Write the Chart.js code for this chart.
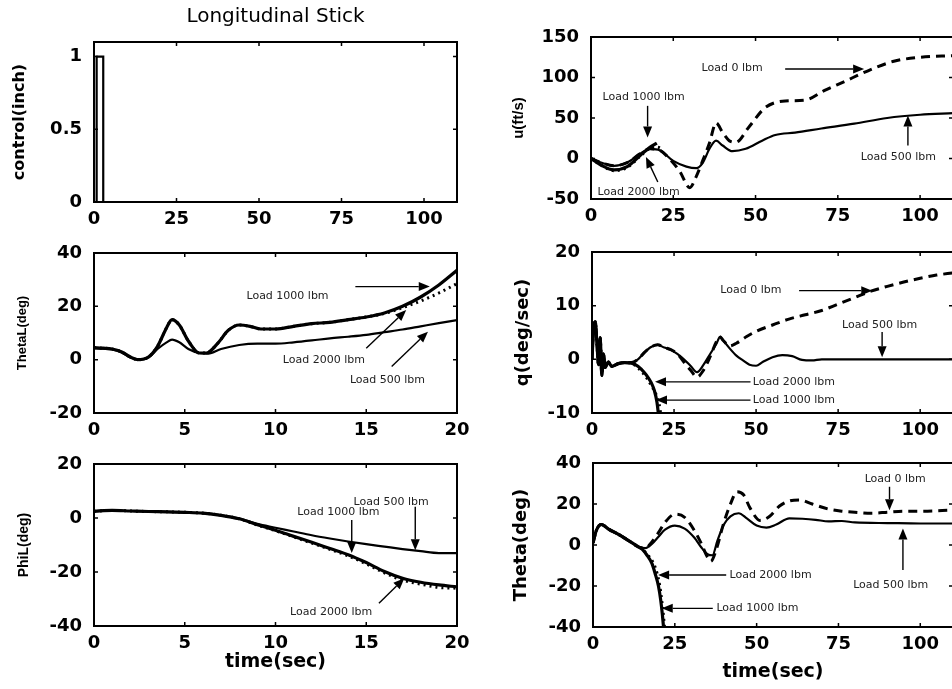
<!DOCTYPE html>
<html>
<head>
<meta charset="utf-8">
<script src="https://cdn.jsdelivr.net/npm/chart.js@4.4.0/dist/chart.umd.min.js"></script>
<style>
html, body { margin: 0; padding: 0; background: #fff; overflow: hidden; width: 952px; height: 689px; }
canvas { position: absolute; }
</style>
</head>
<body>
<canvas id="stick"></canvas>
<canvas id="thetaL"></canvas>
<canvas id="phiL"></canvas>
<canvas id="u"></canvas>
<canvas id="q"></canvas>
<canvas id="theta"></canvas>
<script>
// ---- tick labels ----
const xTicksLong = [0, 25, 50, 75, 100];
const xTicksShort = [0, 5, 10, 15, 20];
const yTicksStick = [0, 0.5, 1];
const yTicksU = [-50, 0, 50, 100, 150];
const yTicksThetaL = [-20, 0, 20, 40];
const yTicksQ = [-10, 0, 10, 20];
const yTicksPhiL = [-40, -20, 0, 20];
const yTicksTheta = [-40, -20, 0, 20, 40];

// ---- longitudinal stick ----
const stickT = [0, 0.8, 0.8, 2.8, 2.8, 110];
const stickIn = [0, 0, 1, 1, 0, 0];

// ---- u (ft/s) ----
const uT500 = [0, 3, 7, 11, 15, 18, 21, 25, 29, 32, 34, 36, 38, 40, 43, 47, 52, 56, 62, 70, 80, 90, 100, 110];
const uLoad500 = [0, -5, -9, -5, 6, 12, 10, -3, -10, -12, -5, 12, 22, 16, 9, 12, 22, 29, 32, 37, 43, 50, 54, 56];
const uT0 = [0, 3, 7, 11, 15, 18, 21, 24, 27, 30, 32, 34, 36, 38, 40, 42, 44, 48, 53, 59, 65, 71, 77, 84, 92, 100, 110];
const uLoad0 = [0, -5, -9, -5, 6, 12, 10, -1, -16, -36, -22, -2, 19, 44, 32, 22, 20, 39, 63, 71, 72, 84, 95, 108, 120, 125, 127];
const uT1000 = [0, 3, 7, 11, 15, 18, 20];
const uLoad1000 = [0, -8, -14, -10, 4, 14, 19];
const uT2000 = [0, 3, 7, 11, 15, 18, 20, 22];
const uLoad2000 = [0, -8, -15, -11, 3, 13, 14, 11];

// ---- ThetaL (deg) ----
const thLT = [0, 0.5, 1, 1.5, 2, 2.4, 3, 3.5, 4, 4.3, 4.7, 5.2, 5.8, 6.2, 6.8, 7.4, 8, 8.6, 9.2, 10, 11, 12, 13, 14, 15, 16, 17, 18, 19, 20];
const thL1000 = [4.5, 4.3, 4.0, 3, 1, 0, 1, 5, 12, 15, 13, 7, 2.5, 2.5, 6, 11, 13, 12.5, 11.5, 11.5, 12.5, 13.5, 14, 15, 16, 17.5, 20, 23.5, 28, 33.5];
const thL2000 = [4.5, 4.3, 4.0, 3, 1, 0, 1, 5, 12, 15, 13, 7, 2.5, 2.5, 6, 11, 13, 12.5, 11.5, 11.5, 12.5, 13.5, 14, 15, 16, 17.3, 19.5, 22, 25, 28.5];
const thLT500 = [0, 0.5, 1, 1.5, 2, 2.4, 3, 3.5, 4, 4.3, 4.7, 5.2, 5.8, 6.3, 7, 8, 9, 10, 11, 12, 13, 14, 15, 16, 17, 18, 19, 20];
const thL500 = [4.3, 4.1, 3.8, 2.8, 0.8, 0, 0.8, 4, 6.5, 7.5, 6.5, 4, 2.5, 2.3, 4, 5.5, 6, 6, 6.5, 7.2, 8, 8.6, 9.3, 10.3, 11.3, 12.5, 13.7, 14.8];

// ---- q (deg/sec) ----
const qT500 = [0, 0.5, 1, 1.5, 2, 2.5, 3, 3.5, 4, 5, 6, 8, 10, 12, 14, 16, 18, 20, 22, 24, 26, 28, 30, 32, 34, 36, 38, 39, 40, 42, 44, 46, 48, 50, 52, 55, 58, 61, 64, 67, 70, 80, 90, 100, 110];
const q500 = [0, 6, 7, 3, -1, 4, -3, 1, -1.5, -0.5, -1.3, -0.8, -0.6, -0.6, 0, 1.3, 2.3, 2.7, 2.2, 1.8, 1, 0, -1.2, -2.4, -1, 1, 3, 4.2, 3.5, 2, 0.7, -0.2, -1, -1.2, -0.5, 0.4, 0.8, 0.6, -0.1, -0.2, 0, 0, 0, 0, 0];
const qT0 = [0, 0.5, 1, 1.5, 2, 2.5, 3, 3.5, 4, 5, 6, 8, 10, 12, 14, 16, 18, 20, 22, 24, 26, 28, 30, 32, 34, 36, 38, 39, 40, 42, 44, 47, 50, 55, 60, 65, 70, 75, 80, 85, 90, 95, 100, 105, 110];
const q0 = [0, 6, 7, 3, -1, 4, -3, 1, -1.5, -0.5, -1.3, -0.8, -0.6, -0.6, 0, 1.3, 2.3, 2.7, 2.2, 1.8, 1, -0.5, -2, -3.3, -2, 0.5, 3.4, 4.2, 3.5, 2.5, 3, 4.2, 5.2, 6.4, 7.5, 8.3, 9.1, 10.3, 11.5, 12.7, 13.6, 14.4, 15.1, 15.7, 16.1];
const qT1000 = [0, 0.5, 1, 1.5, 2, 2.5, 3, 3.5, 4, 5, 6, 8, 10, 12, 14, 16, 17, 18, 19, 19.8, 20.3];
const q1000 = [0, 6, 7, 3, -1, 4, -3, 1, -1.5, -0.5, -1.3, -0.8, -0.6, -0.7, -1.3, -2.5, -3.3, -4.3, -5.8, -8, -10.5];
const qT2000 = [0, 0.5, 1, 1.5, 2, 2.5, 3, 3.5, 4, 5, 6, 8, 10, 12, 14, 16, 18, 19.5, 20.5, 21];
const q2000 = [0, 6, 7, 3, -1, 4, -3, 1, -1.5, -0.5, -1.3, -0.8, -0.6, -0.7, -1.6, -2.9, -4.8, -6.5, -8.5, -10.5];

// ---- PhiL (deg) ----
const phT = [0, 1, 2, 3, 4, 5, 6, 7, 8, 9, 10, 11, 12, 13, 14, 15, 16, 17, 18, 19, 20];
const phi500 = [2.5, 2.8, 2.6, 2.4, 2.3, 2.1, 1.8, 1, -0.2, -2.2, -3.6, -5, -6.4, -7.6, -8.7, -9.7, -10.6, -11.5, -12.3, -13, -13];
const phi1000 = [2.5, 2.8, 2.6, 2.4, 2.3, 2.1, 1.8, 1, -0.3, -2.5, -4.5, -6.8, -9, -11.3, -13.6, -16.5, -19.8, -22.3, -23.8, -24.8, -25.5];
const phi2000 = [2.5, 2.8, 2.6, 2.4, 2.3, 2.1, 1.8, 1, -0.3, -2.6, -4.7, -7, -9.3, -11.6, -14, -17, -20.3, -23, -24.5, -25.7, -26];

// ---- Theta (deg) ----
const thT500 = [0, 1, 2.5, 5, 8, 11, 14, 16, 18, 20, 22, 25, 28, 31, 33, 35, 36.5, 38, 40, 42, 44.5, 47, 50, 53, 56, 60, 64, 68, 72, 76, 80, 90, 100, 110];
const th500 = [1, 7, 10, 7.5, 5, 2, -1, -1.5, 0.5, 4, 7.5, 9.5, 8, 3.5, -1, -4.5, -5, 2, 10, 14, 15.5, 13, 9.5, 8.5, 10, 13, 12.8, 12.3, 11.5, 11.7, 11, 10.7, 10.5, 10.5];
const thT0 = [0, 1, 2.5, 5, 8, 11, 14, 16, 18, 20, 22, 25, 28, 31, 33, 35, 36, 37.5, 40, 42, 44, 46, 48, 51, 54, 57, 60, 63, 67, 72, 76, 80, 85, 90, 95, 100, 110];
const th0 = [1, 7, 10, 7.5, 5, 2, -1, -1.5, 1.5, 6, 11, 15, 13.5, 7, 1, -6, -8, -3, 11, 20, 26, 24.5, 18, 12, 14, 19, 21.5, 22, 20, 17.5, 16.5, 16, 15.5, 16, 16.5, 16.5, 17];
const thT1000 = [0, 1, 2.5, 5, 8, 11, 14, 15, 16.5, 18, 19, 20, 20.7, 21.2, 21.6];
const th1000 = [1, 7, 10, 7.5, 5, 2, -1, -2, -5, -9, -14, -20, -27, -34, -41];
const thT2000 = [0, 1, 2.5, 5, 8, 11, 14, 15, 16.8, 18.5, 19.6, 20.4, 21, 21.5, 21.9];
const th2000 = [1, 7, 10, 7.5, 5, 2, -1, -2, -5, -9, -14, -20, -27, -34, -41];

// ---- annotations: [t, value, text] and arrows [t0, v0, t1, v1] (head at t1,v1) ----
const NOTES = {
  u: {
    labels: [[33.6, 112, 'Load 0 lbm'], [3.5, 75.5, 'Load 1000 lbm'], [2, -41, 'Load 2000 lbm'], [82, 2, 'Load 500 lbm']],
    arrows: [[59, 110.5, 83, 110.5], [17.2, 65, 17.2, 26], [20.3, -29, 16.7, 2], [96.3, 16, 96.3, 53]]
  },
  thetaL: {
    labels: [[8.4, 24, 'Load 1000 lbm'], [10.4, -0.1, 'Load 2000 lbm'], [14.1, -7.6, 'Load 500 lbm']],
    arrows: [[14.4, 27.4, 18.5, 27.4], [15.0, 4.3, 17.2, 18.6], [16.4, -2.6, 18.4, 10.5]]
  },
  q: {
    labels: [[39.1, 12.8, 'Load 0 lbm'], [76.2, 6.4, 'Load 500 lbm'], [49, -4.2, 'Load 2000 lbm'], [49, -7.6, 'Load 1000 lbm']],
    arrows: [[63.1, 12.8, 85.4, 12.8], [88.4, 5.1, 88.4, 0.4], [48.3, -4.2, 19.2, -4.2], [48.3, -7.6, 19.5, -7.6]]
  },
  phiL: {
    labels: [[14.3, 6, 'Load 500 lbm'], [11.2, 2.3, 'Load 1000 lbm'], [10.8, -34.7, 'Load 2000 lbm']],
    arrows: [[17.7, 4.2, 17.7, -11.9], [14.2, -0.7, 14.2, -13], [15.7, -31.6, 17.1, -22.3]]
  },
  theta: {
    labels: [[83, 32, 'Load 0 lbm'], [79.5, -19.5, 'Load 500 lbm'], [41.7, -14.6, 'Load 2000 lbm'], [37.7, -30.9, 'Load 1000 lbm']],
    arrows: [[90.6, 28.4, 90.6, 17], [94.7, -12.2, 94.7, 8.1], [40.7, -14.6, 19.9, -14.6], [36.6, -30.9, 21.0, -30.9]]
  }
};

const pts = (ts, vs) => ts.map((t, i) => ({x: t, y: vs[i]}));

const thick = {borderWidth: 3.2};
const thin = {borderWidth: 2.2};
const dashed = {borderWidth: 3, borderDash: [9, 6]};
const dotted = {borderWidth: 3, borderDash: [2, 4]};

const framePlugin = {
  id: 'frame',
  afterDatasetsDraw(chart) {
    const {ctx, chartArea: a, scales: {x, y}} = chart;
    ctx.save();
    ctx.strokeStyle = '#000';
    ctx.lineWidth = 2;
    ctx.strokeRect(a.left, a.top, a.right - a.left, a.bottom - a.top);
    ctx.lineWidth = 1.5;
    ctx.beginPath();
    x.ticks.forEach(t => {
      const px = x.getPixelForValue(t.value);
      ctx.moveTo(px, a.bottom); ctx.lineTo(px, a.bottom - 4);
      ctx.moveTo(px, a.top); ctx.lineTo(px, a.top + 4);
    });
    y.ticks.forEach(t => {
      const py = y.getPixelForValue(t.value);
      ctx.moveTo(a.left, py); ctx.lineTo(a.left + 4, py);
      ctx.moveTo(a.right, py); ctx.lineTo(a.right - 4, py);
    });
    ctx.stroke();
    ctx.restore();
  }
};

const notePlugin = {
  id: 'notes',
  afterDraw(chart) {
    const n = NOTES[chart.canvas.id];
    if (!n) return;
    const {ctx, scales: {x, y}} = chart;
    ctx.save();
    ctx.font = '11px "DejaVu Sans"';
    ctx.fillStyle = '#222';
    ctx.textBaseline = 'middle';
    ctx.textAlign = 'left';
    n.labels.forEach(([t, v, s]) => ctx.fillText(s, x.getPixelForValue(t), y.getPixelForValue(v)));
    ctx.strokeStyle = '#000';
    ctx.fillStyle = '#000';
    ctx.lineWidth = 1.4;
    n.arrows.forEach(([t0, v0, t1, v1]) => {
      const x0 = x.getPixelForValue(t0), y0 = y.getPixelForValue(v0);
      const x1 = x.getPixelForValue(t1), y1 = y.getPixelForValue(v1);
      const ang = Math.atan2(y1 - y0, x1 - x0);
      const L = 11, W = 4.5;
      const bx = x1 - L * Math.cos(ang), by = y1 - L * Math.sin(ang);
      ctx.beginPath();
      ctx.moveTo(x0, y0); ctx.lineTo(bx, by);
      ctx.stroke();
      ctx.beginPath();
      ctx.moveTo(x1, y1);
      ctx.lineTo(bx - W * Math.sin(ang), by + W * Math.cos(ang));
      ctx.lineTo(bx + W * Math.sin(ang), by - W * Math.cos(ang));
      ctx.closePath();
      ctx.fill();
    });
    ctx.restore();
  }
};

Chart.defaults.color = '#000';
Chart.defaults.font.family = '"DejaVu Sans", sans-serif';

function panel(id, p) {
  const c = document.getElementById(id);
  const [cl, ct, cw, ch] = p.box;
  c.width = cw; c.height = ch;
  c.style.left = cl + 'px'; c.style.top = ct + 'px';
  const yW = p.plot[0] - cl;
  const xH = ct + ch - p.plot[3];
  return new Chart(c, {
    type: 'line',
    data: {
      datasets: p.series.map(s => Object.assign({
        data: s.data, borderColor: '#000', backgroundColor: '#000',
        pointRadius: 0, fill: false, cubicInterpolationMode: 'monotone'
      }, s.style))
    },
    options: {
      responsive: false,
      animation: false,
      devicePixelRatio: 1,
      layout: {padding: {left: 0, bottom: 0, top: p.padTop, right: cl + cw - p.plot[1]}},
      plugins: {
        legend: {display: false},
        tooltip: {enabled: false},
        title: p.title ? {
          display: true, text: p.title, fullSize: false,
          font: {family: '"DejaVu Sans"', size: 20, weight: 'normal'},
          padding: {top: 4.7, bottom: 13.3}
        } : {display: false}
      },
      scales: {
        x: {
          type: 'linear', min: 0, max: p.xMax,
          grid: {display: false, drawTicks: false},
          border: {display: false},
          ticks: {font: {size: 18, weight: 'bold'}, padding: 7, maxRotation: 0, callback: v => String(v)},
          afterBuildTicks: s => { s.ticks = p.xTicks.map(v => ({value: v})); },
          afterFit: s => { s.height = xH; },
          title: p.xTitle ? {
            display: true, text: p.xTitle,
            font: {size: 19, weight: 'bold'},
            padding: {top: 0, bottom: p.xTitlePad}
          } : {display: false}
        },
        y: {
          type: 'linear', min: p.yMin, max: p.yMax,
          grid: {display: false, drawTicks: false},
          border: {display: false},
          ticks: {font: {size: 18, weight: 'bold'}, padding: 12, callback: v => String(v)},
          afterBuildTicks: s => { s.ticks = p.yTicks.map(v => ({value: v})); },
          afterFit: s => { s.width = yW; },
          title: {
            display: true, text: p.yTitle,
            font: {family: p.yTitleFamily || '"DejaVu Sans"', size: p.yTitleSize, weight: 'bold'},
            padding: {top: p.yTitlePad, bottom: 0}
          }
        }
      }
    },
    plugins: [framePlugin, notePlugin]
  });
}

panel('stick', {
  box: [0, 0, 480, 235], plot: [94, 457, 42, 202], padTop: 0,
  title: 'Longitudinal Stick',
  xMax: 110, xTicks: xTicksLong, yMin: 0, yMax: 1.1, yTicks: yTicksStick,
  yTitle: 'control(inch)', yTitleSize: 16, yTitlePad: 10.4,
  series: [{data: pts(stickT, stickIn), style: {borderWidth: 2.2, cubicInterpolationMode: 'default', tension: 0}}]
});

panel('u', {
  box: [476, 0, 500, 240], plot: [591, 953, 37, 199], padTop: 37,
  xMax: 110, xTicks: xTicksLong, yMin: -50, yMax: 150, yTicks: yTicksU,
  yTitle: 'u(ft/s)', yTitleSize: 15, yTitleFamily: '"Liberation Sans"', yTitlePad: 34,
  series: [
    {data: pts(uT500, uLoad500), style: thin},
    {data: pts(uT0, uLoad0), style: dashed},
    {data: pts(uT1000, uLoad1000), style: thick},
    {data: pts(uT2000, uLoad2000), style: dotted}
  ]
});

panel('thetaL', {
  box: [0, 225, 480, 220], plot: [94, 457, 253, 413], padTop: 28,
  xMax: 20, xTicks: xTicksShort, yMin: -20, yMax: 40, yTicks: yTicksThetaL,
  yTitle: 'ThetaL(deg)', yTitleSize: 13, yTitleFamily: '"Liberation Sans"', yTitlePad: 15,
  series: [
    {data: pts(thLT500, thL500), style: thin},
    {data: pts(thLT, thL1000), style: thick},
    {data: pts(thLT, thL2000), style: dotted}
  ]
});

panel('q', {
  box: [476, 225, 500, 220], plot: [592, 953, 252, 413], padTop: 27,
  xMax: 110, xTicks: xTicksLong, yMin: -10, yMax: 20, yTicks: yTicksQ,
  yTitle: 'q(deg/sec)', yTitleSize: 18, yTitlePad: 36.7,
  series: [
    {data: pts(qT500, q500), style: thin},
    {data: pts(qT0, q0), style: dashed},
    {data: pts(qT1000, q1000), style: thick},
    {data: pts(qT2000, q2000), style: dotted}
  ]
});

panel('phiL', {
  box: [0, 440, 480, 249], plot: [94, 457, 464, 626], padTop: 24,
  xMax: 20, xTicks: xTicksShort, yMin: -40, yMax: 20, yTicks: yTicksPhiL,
  yTitle: 'PhiL(deg)', yTitleSize: 14, yTitleFamily: '"Liberation Sans"', yTitlePad: 15.6,
  xTitle: 'time(sec)', xTitlePad: 15.9,
  series: [
    {data: pts(phT, phi500), style: thin},
    {data: pts(phT, phi1000), style: thick},
    {data: pts(phT, phi2000), style: dotted}
  ]
});

panel('theta', {
  box: [476, 440, 500, 249], plot: [593, 953, 463, 627], padTop: 23,
  xMax: 110, xTicks: xTicksLong, yMin: -40, yMax: 40, yTicks: yTicksTheta,
  yTitle: 'Theta(deg)', yTitleSize: 18, yTitlePad: 34.2,
  xTitle: 'time(sec)', xTitlePad: 5.9,
  series: [
    {data: pts(thT500, th500), style: thin},
    {data: pts(thT0, th0), style: dashed},
    {data: pts(thT1000, th1000), style: thick},
    {data: pts(thT2000, th2000), style: dotted}
  ]
});
</script>
</body>
</html>
